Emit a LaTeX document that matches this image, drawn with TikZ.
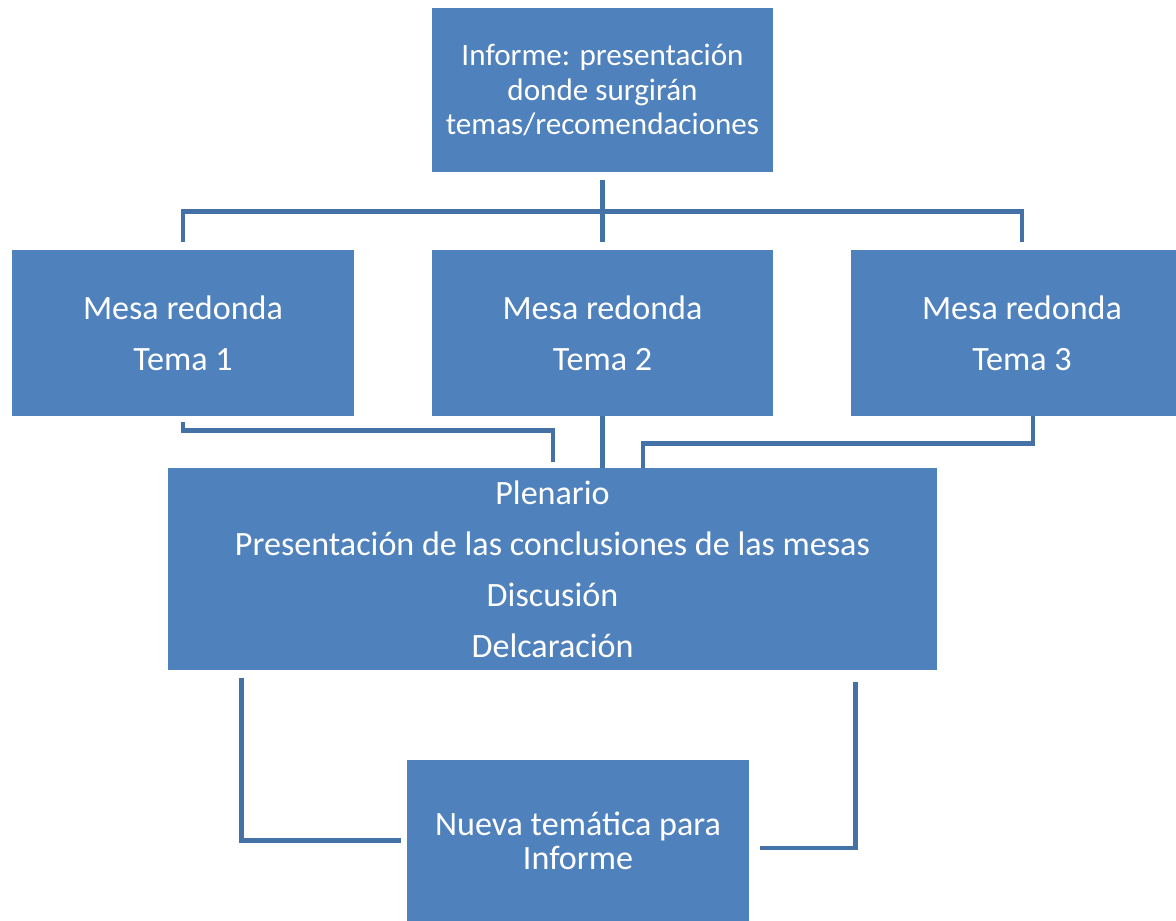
\documentclass[tikz,border=0pt]{standalone}
\usepackage{fontspec}
\setmainfont{Carlito}
\usetikzlibrary{calc}
\definecolor{boxblue}{RGB}{79,129,189}
\definecolor{lineblue}{RGB}{68,113,166}
\tikzset{
  caja/.style={rectangle,fill=boxblue,text=white,align=center,inner sep=0pt,
    font=\fontsize{19.4}{20}\selectfont},
  cajachica/.style={caja,font=\fontsize{17.7}{19.6}\selectfont},
  conn/.style={draw=lineblue,line width=2.8pt}
}
\begin{document}
\begin{tikzpicture}
\useasboundingbox (0,0) rectangle (23.52,-18.42);
% cajas
\node[cajachica,minimum width=6.82cm,minimum height=3.28cm](informe) at (12.05,-1.8)
  {Informe: presentación\\donde surgirán\\temas/recomendaciones};
\node[caja,minimum width=6.84cm,minimum height=3.32cm](mesa1) at (3.66,-6.66)
  {Mesa redonda\\[9pt]Tema 1};
\node[caja,minimum width=6.82cm,minimum height=3.32cm](mesa2) at (12.05,-6.66)
  {Mesa redonda\\[9pt]Tema 2};
\node[caja,minimum width=6.84cm,minimum height=3.32cm](mesa3) at (20.44,-6.66)
  {Mesa redonda\\[9pt]Tema 3};
\node[caja,minimum width=15.38cm,minimum height=4.04cm](plenario) at (11.05,-11.38)
  {Plenario\\[9pt]Presentación de las conclusiones de las mesas\\[9pt]Discusión\\[9pt]Delcaración};
\node[caja,minimum width=6.84cm,minimum height=3.22cm](nueva) at (11.56,-16.81)
  {Nueva temática para\\[-0.5pt]Informe};
% conectores de arriba
\draw[conn]($(informe.south)+(0,-0.16)$)--($(mesa2.north)+(0,0.16)$);
\draw[conn]($(mesa1.north)+(0,0.16)$)--++(0,0.6)-|($(mesa3.north)+(0,0.16)$);
% mesas al plenario
\draw[conn]($(mesa1.south)+(0,-0.12)$)--++(0,-0.16)-|($(plenario.north)+(0.01,0.12)$);
\draw[conn](mesa2.south)--(mesa2.south|-plenario.north);
\draw[conn]($(mesa3.south)+(0.22,0)$)--++(0,-0.54)-|($(plenario.north)+(1.81,0)$);
% plenario a nueva tematica
\draw[conn]($(plenario.south west)+(1.48,-0.16)$)|-($(nueva.west)+(-0.12,0)$);
\draw[conn]($(nueva.east)+(0.22,-0.15)$)-|($(plenario.south east)+(-1.64,-0.24)$);
\end{tikzpicture}
\end{document}
